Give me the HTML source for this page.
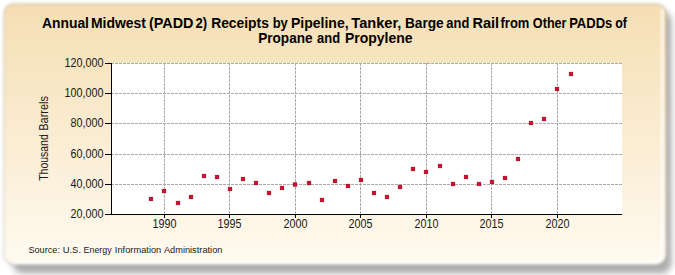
<!DOCTYPE html>
<html><head><meta charset="utf-8"><style>
html,body{margin:0;padding:0;background:#fff;}
body{width:675px;height:275px;position:relative;overflow:hidden;font-family:"Liberation Sans",sans-serif;}
svg{position:absolute;left:0;top:0;}
.t{font-weight:bold;font-size:13.75px;fill:#000;}
</style></head><body>
<svg width="675" height="275" viewBox="0 0 675 275" font-family="Liberation Sans, sans-serif">
<defs>
<linearGradient id="bg" x1="0" y1="0" x2="0" y2="1"><stop offset="0" stop-color="#f5deb3"/><stop offset="1" stop-color="#fffaf0"/></linearGradient>
<filter id="sh" x="-5%" y="-5%" width="110%" height="110%"><feGaussianBlur stdDeviation="3"/></filter>
<filter id="fe" x="-5%" y="-5%" width="110%" height="110%"><feGaussianBlur stdDeviation="1.5"/></filter>
<filter id="hl" x="-5%" y="-5%" width="110%" height="110%"><feGaussianBlur stdDeviation="1"/></filter>
</defs>
<rect x="12.5" y="11" width="659" height="262.5" rx="10" fill="#000" opacity="0.32" filter="url(#sh)"/>
<g filter="url(#fe)">
<rect x="3.8" y="3.8" width="662.4" height="260.9" rx="10" fill="url(#bg)" stroke="rgba(100,100,80,0.3)" stroke-width="1.2"/>
</g>
<path d="M 662.2 9 L 662.2 252 Q 662.2 261.7 652.5 261.7 L 14 261.7" fill="none" stroke="#fff" stroke-width="3" opacity="0.7" filter="url(#hl)"/>
<rect x="112" y="63" width="510" height="151" fill="#fff"/>
<g stroke="#aaaaaa" stroke-width="1" stroke-dasharray="3 1" fill="none">
<line x1="111" y1="184.5" x2="622" y2="184.5"/><line x1="111" y1="154.5" x2="622" y2="154.5"/><line x1="111" y1="123.5" x2="622" y2="123.5"/><line x1="111" y1="93.5" x2="622" y2="93.5"/><line x1="111" y1="63.5" x2="622" y2="63.5"/><line x1="164.5" y1="63" x2="164.5" y2="214"/><line x1="229.5" y1="63" x2="229.5" y2="214"/><line x1="295.5" y1="63" x2="295.5" y2="214"/><line x1="360.5" y1="63" x2="360.5" y2="214"/><line x1="426.5" y1="63" x2="426.5" y2="214"/><line x1="491.5" y1="63" x2="491.5" y2="214"/><line x1="557.5" y1="63" x2="557.5" y2="214"/>
</g>
<g fill="#d6082a" stroke="#a8001c" stroke-width="0.7"><rect x="149.25" y="197.25" width="3.50" height="3.50"/><rect x="162.25" y="189.25" width="3.50" height="3.50"/><rect x="176.25" y="201.25" width="3.50" height="3.50"/><rect x="189.25" y="195.25" width="3.50" height="3.50"/><rect x="202.25" y="174.25" width="3.50" height="3.50"/><rect x="215.25" y="175.25" width="3.50" height="3.50"/><rect x="228.25" y="187.25" width="3.50" height="3.50"/><rect x="241.25" y="177.25" width="3.50" height="3.50"/><rect x="254.25" y="181.25" width="3.50" height="3.50"/><rect x="267.25" y="191.25" width="3.50" height="3.50"/><rect x="280.25" y="186.25" width="3.50" height="3.50"/><rect x="293.25" y="182.75" width="3.50" height="3.50"/><rect x="307.25" y="181.25" width="3.50" height="3.50"/><rect x="320.25" y="198.25" width="3.50" height="3.50"/><rect x="333.25" y="179.25" width="3.50" height="3.50"/><rect x="346.25" y="184.25" width="3.50" height="3.50"/><rect x="359.25" y="178.25" width="3.50" height="3.50"/><rect x="372.25" y="191.25" width="3.50" height="3.50"/><rect x="385.25" y="195.25" width="3.50" height="3.50"/><rect x="398.25" y="185.25" width="3.50" height="3.50"/><rect x="411.25" y="167.25" width="3.50" height="3.50"/><rect x="424.25" y="170.25" width="3.50" height="3.50"/><rect x="438.25" y="164.25" width="3.50" height="3.50"/><rect x="451.25" y="182.25" width="3.50" height="3.50"/><rect x="464.25" y="175.25" width="3.50" height="3.50"/><rect x="477.25" y="182.25" width="3.50" height="3.50"/><rect x="490.25" y="180.25" width="3.50" height="3.50"/><rect x="503.25" y="176.25" width="3.50" height="3.50"/><rect x="516.25" y="157.25" width="3.50" height="3.50"/><rect x="529.25" y="121.25" width="3.50" height="3.50"/><rect x="542.25" y="117.25" width="3.50" height="3.50"/><rect x="555.25" y="87.25" width="3.50" height="3.50"/><rect x="569.25" y="72.25" width="3.50" height="3.50"/></g>
<g stroke="#000" stroke-width="1" fill="none">
<line x1="111.5" y1="63" x2="111.5" y2="215"/>
<line x1="111" y1="214.5" x2="622" y2="214.5"/>
<line x1="105" y1="214.5" x2="112" y2="214.5"/><line x1="105" y1="184.5" x2="112" y2="184.5"/><line x1="105" y1="154.5" x2="112" y2="154.5"/><line x1="105" y1="123.5" x2="112" y2="123.5"/><line x1="105" y1="93.5" x2="112" y2="93.5"/><line x1="105" y1="63.5" x2="112" y2="63.5"/><line x1="164.5" y1="214" x2="164.5" y2="218"/><line x1="229.5" y1="214" x2="229.5" y2="218"/><line x1="295.5" y1="214" x2="295.5" y2="218"/><line x1="360.5" y1="214" x2="360.5" y2="218"/><line x1="426.5" y1="214" x2="426.5" y2="218"/><line x1="491.5" y1="214" x2="491.5" y2="218"/><line x1="557.5" y1="214" x2="557.5" y2="218"/>
</g>
<g font-size="12" fill="#1a1a1a"><text transform="translate(103.4,218) scale(0.9,1)" text-anchor="end">20,000</text><text transform="translate(103.4,188) scale(0.9,1)" text-anchor="end">40,000</text><text transform="translate(103.4,158) scale(0.9,1)" text-anchor="end">60,000</text><text transform="translate(103.4,127) scale(0.9,1)" text-anchor="end">80,000</text><text transform="translate(103.4,97) scale(0.9,1)" text-anchor="end">100,000</text><text transform="translate(103.4,67) scale(0.9,1)" text-anchor="end">120,000</text><text transform="translate(164.5,228) scale(0.9,1)" text-anchor="middle">1990</text><text transform="translate(229.5,228) scale(0.9,1)" text-anchor="middle">1995</text><text transform="translate(295.5,228) scale(0.9,1)" text-anchor="middle">2000</text><text transform="translate(360.5,228) scale(0.9,1)" text-anchor="middle">2005</text><text transform="translate(426.5,228) scale(0.9,1)" text-anchor="middle">2010</text><text transform="translate(491.5,228) scale(0.9,1)" text-anchor="middle">2015</text><text transform="translate(557.5,228) scale(0.9,1)" text-anchor="middle">2020</text></g>
<text class="t" transform="translate(41.99,27.7) scale(1.009,1)">Annual</text><text class="t" transform="translate(90.99,27.7) scale(1.015,1)">Midwest</text><text class="t" transform="translate(149.06,27.7) scale(1.046,1)">(PADD</text><text class="t" transform="translate(195.54,27.7) scale(0.950,1)">2)</text><text class="t" transform="translate(211.19,27.7) scale(1.007,1)">Receipts</text><text class="t" transform="translate(272.64,27.7) scale(0.947,1)">by</text><text class="t" transform="translate(290.88,27.7) scale(1.022,1)">Pipeline,</text><text class="t" transform="translate(351.35,27.7) scale(1.063,1)">Tanker,</text><text class="t" transform="translate(404.90,27.7) scale(0.997,1)">Barge</text><text class="t" transform="translate(446.35,27.7) scale(0.938,1)">and</text><text class="t" transform="translate(472.45,27.7) scale(1.057,1)">Rail</text><text class="t" transform="translate(500.55,27.7) scale(0.943,1)">from</text><text class="t" transform="translate(532.86,27.7) scale(0.919,1)">Other</text><text class="t" transform="translate(569.14,27.7) scale(0.948,1)">PADDs</text><text class="t" transform="translate(615.18,27.7) scale(0.900,1)">of</text><text class="t" transform="translate(258.21,42.7) scale(0.989,1)">Propane</text><text class="t" transform="translate(317.05,42.7) scale(0.942,1)">and</text><text class="t" transform="translate(344.99,42.7) scale(1.018,1)">Propylene</text>

<text transform="translate(48,180.80) rotate(-90) scale(0.874,1)" font-size="12" fill="#1a1a1a">Thousand</text><text transform="translate(48,130.71) rotate(-90) scale(0.914,1)" font-size="12" fill="#1a1a1a">Barrels</text>
<text transform="translate(28.38,252.9) scale(0.956,1)" font-size="9.6" fill="#1a1a1a">Source:</text><text transform="translate(62.66,252.9) scale(0.984,1)" font-size="9.6" fill="#1a1a1a">U.S.</text><text transform="translate(83.51,252.9) scale(0.927,1)" font-size="9.6" fill="#1a1a1a">Energy</text><text transform="translate(114.87,252.9) scale(0.967,1)" font-size="9.6" fill="#1a1a1a">Information</text><text transform="translate(163.90,252.9) scale(0.964,1)" font-size="9.6" fill="#1a1a1a">Administration</text>
</svg>
</body></html>
